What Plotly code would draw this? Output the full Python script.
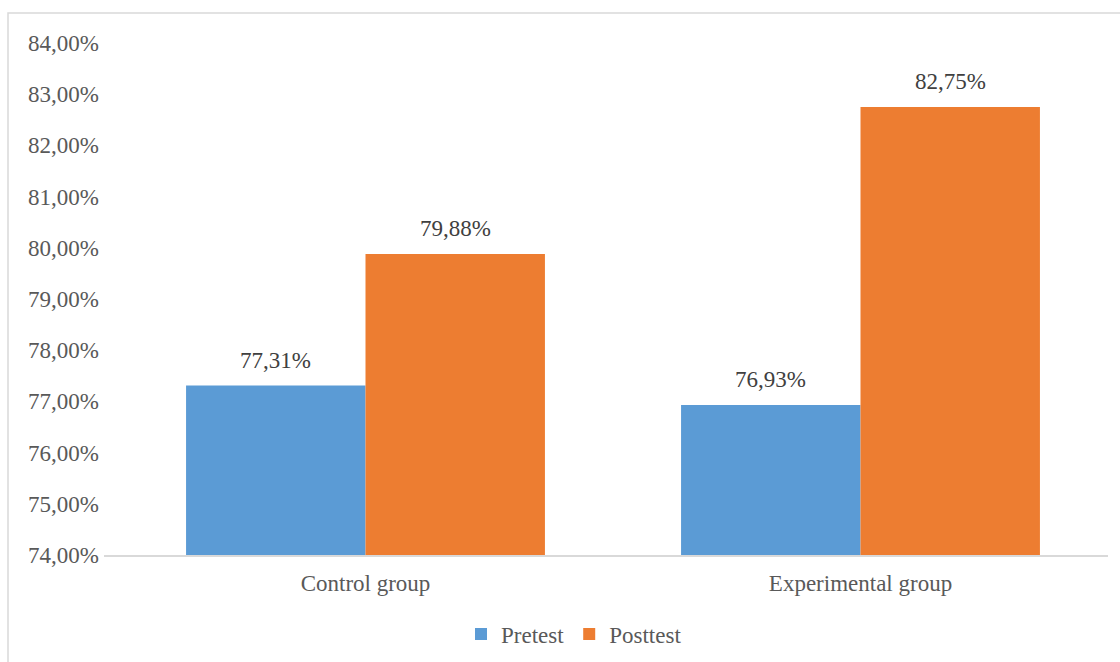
import plotly.graph_objects as go

# Chart data
categories = ["Control group", "Experimental group"]
pretest = [0.7731, 0.7693]
posttest = [0.7988, 0.8275]
series_names = ["Pretest", "Posttest"]
series_colors = ["#5B9BD5", "#ED7D31"]
y_min, y_max, y_step = 0.74, 0.84, 0.01

FONT = "Times New Roman, Liberation Serif, serif"
FS = 23
W, H = 1120, 662
M_L, M_R, M_T, M_B = 104, 12, 43, 107
plot_w = W - M_L - M_R
plot_h = H - M_T - M_B


def px_x(px):
    return (px - M_L) / plot_w


def px_y(py):
    return (H - M_B - py) / plot_h


def pct(v):
    return f"{v * 100:.2f}%".replace(".", ",")


fig = go.Figure()
for name, vals, color in zip(series_names, [pretest, posttest], series_colors):
    fig.add_trace(go.Bar(
        name=name,
        x=list(range(len(categories))),
        y=[v - y_min for v in vals],
        base=y_min,
        marker=dict(color=color, line=dict(width=0)),
        hoverinfo="skip",
    ))

# Value labels above each bar
bar_gap = 0.275
half = (1 - bar_gap) / 4
annotations = []
for k, vals in enumerate([pretest, posttest]):
    offset = -half if k == 0 else half
    for i, v in enumerate(vals):
        annotations.append(dict(
            x=i + offset, y=v, xref="x", yref="y",
            text=pct(v), showarrow=False, yanchor="bottom", yshift=11,
            font=dict(family=FONT, size=FS, color="#404040"),
        ))

fig.update_layout(
    width=W, height=H,
    margin=dict(l=M_L, r=M_R, t=M_T, b=M_B, autoexpand=False),
    paper_bgcolor="white", plot_bgcolor="white",
    barmode="group", bargap=bar_gap, bargroupgap=0,
    separators=",.",
    font=dict(family=FONT, size=FS, color="#595959"),
    showlegend=True,
    legend=dict(
        orientation="h", x=px_x(461), y=px_y(634),
        xanchor="left", yanchor="middle",
        font=dict(family=FONT, size=FS, color="#595959"),
        bgcolor="rgba(0,0,0,0)", itemclick=False,
    ),
    annotations=annotations,
    shapes=[dict(
        type="rect", xref="paper", yref="paper",
        x0=px_x(8), x1=px_x(1130), y0=px_y(680), y1=px_y(13),
        line=dict(color="#D9D9D9", width=1.5), fillcolor="rgba(0,0,0,0)",
        layer="below",
    )],
)

fig.update_xaxes(
    range=[1.5 - plot_w / 495, 1.5],
    tickmode="array", tickvals=list(range(len(categories))), ticktext=categories,
    showgrid=False, zeroline=False,
    showline=True, linecolor="#D9D9D9", linewidth=1.5,
    ticks="", ticklabelstandoff=7,
    tickfont=dict(family=FONT, size=FS, color="#595959"),
)
fig.update_yaxes(
    range=[y_min, y_max], dtick=y_step, tick0=y_min, tickformat=".2%",
    showgrid=False, zeroline=False, showline=False,
    ticks="", ticklabelstandoff=4,
    tickfont=dict(family=FONT, size=FS, color="#595959"),
)

fig.write_html("out.html")
